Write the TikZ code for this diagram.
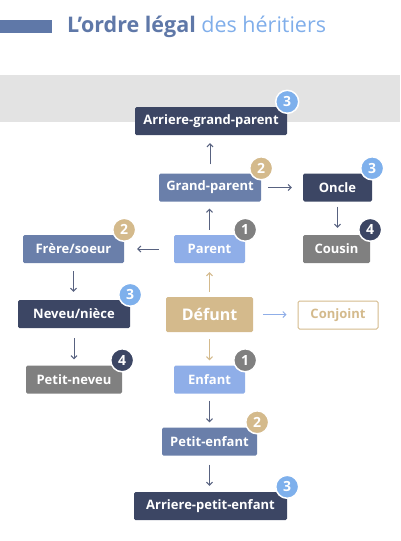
\documentclass[tikz,border=0pt]{standalone}
\usepackage{fontspec}
\setmainfont{Open Sans}
\usetikzlibrary{positioning, arrows.meta, calc}
\definecolor{navy}{RGB}{60,70,100}
\definecolor{slate}{RGB}{106,127,170}
\definecolor{sky}{RGB}{143,174,232}
\definecolor{stone}{RGB}{128,128,128}
\definecolor{sand}{RGB}{212,186,140}
\definecolor{badgesky}{RGB}{126,176,236}
\definecolor{band}{RGB}{227,227,227}
\definecolor{titleink}{RGB}{95,120,168}
\definecolor{titlesky}{RGB}{128,174,234}
\definecolor{linkc}{RGB}{88,98,128}

\begin{document}
\begin{tikzpicture}[x=1pt, y=-1pt,
  box/.style={rounded corners=1.5pt, minimum height=28pt, inner sep=0pt,
    text=white, font=\fontsize{13}{15}\selectfont\bfseries},
  badge/.style={circle, draw=white, line width=1.5pt, minimum size=23pt,
    inner sep=0pt, text=white, font=\fontsize{14}{16}\selectfont\bfseries},
  link/.style={draw=linkc, line width=1pt,
    -{Straight Barb[length=3pt,width=6pt]}},
]
\useasboundingbox (0,0) rectangle (400,541);

% title and the grey band behind the top row
\fill[titleink] (0,20) rectangle (52,33);
\node[anchor=base west, inner sep=0pt, font=\fontsize{21.5}{24}\selectfont]
  (title) at (67,32)
  {\textcolor{titleink}{\bfseries L’ordre légal} \textcolor{titlesky}{des héritiers}};
\fill[band] (0,75) rectangle (400,122);

% ascendants
\node[box, fill=navy, minimum width=152pt] (agp) at (211,121) {Arriere-grand-parent};
\node[box, fill=slate, minimum width=102pt] (gp) at (210,187.5) {Grand-parent};
\node[box, fill=navy, minimum width=69pt] (oncle) at (337.5,187.5) {Oncle};
\node[box, fill=stone, minimum width=67pt] (cousin) at (336.5,249) {Cousin};
\node[box, fill=sky, minimum width=71pt] (parent) at (209.5,249) {Parent};

% collaterals
\node[box, fill=slate, minimum width=101pt] (frere) at (73.5,249) {Frère/soeur};
\node[box, fill=navy, minimum width=112pt] (neveu) at (74,314) {Neveu/nièce};
\node[box, fill=stone, minimum width=96pt] (pneveu) at (74,379.5) {Petit-neveu};

% the deceased and the spouse
\node[box, fill=sand, minimum width=87pt, minimum height=35pt,
  font=\fontsize{16}{18}\selectfont\bfseries] (defunt) at (209.5,314.5) {Défunt};
\node[box, fill=white, draw=sand, line width=1pt, text=sand,
  minimum width=80pt] (conjoint) at (338,315) {Conjoint};

% descendants
\node[box, fill=sky, minimum width=71pt] (enfant) at (209.5,379.5) {Enfant};
\node[box, fill=slate, minimum width=95pt] (penfant) at (209.5,441.5) {Petit-enfant};
\node[box, fill=navy, minimum width=153pt] (apenfant) at (210.5,506) {Arriere-petit-enfant};

% order badges
\node[badge, fill=badgesky] (agp-b) at ([yshift=5pt]agp.north east) {3};
\node[badge, fill=sand] (gp-b) at ([yshift=5pt]gp.north east) {2};
\node[badge, fill=badgesky] (oncle-b) at ([yshift=5pt]oncle.north east) {3};
\node[badge, fill=navy] (cousin-b) at ([yshift=5pt]cousin.north east) {4};
\node[badge, fill=stone] (parent-b) at ([yshift=5pt]parent.north east) {1};
\node[badge, fill=sand] (frere-b) at ([yshift=5pt]frere.north east) {2};
\node[badge, fill=badgesky] (neveu-b) at ([yshift=5pt]neveu.north east) {3};
\node[badge, fill=navy] (pneveu-b) at ([yshift=5pt]pneveu.north east) {4};
\node[badge, fill=stone] (enfant-b) at ([yshift=5pt]enfant.north east) {1};
\node[badge, fill=sand] (penfant-b) at ([yshift=5pt]penfant.north east) {2};
\node[badge, fill=badgesky] (apenfant-b) at ([yshift=5pt]apenfant.north east) {3};

% links
\draw[link, shorten <=9pt, shorten >=8pt] (gp.north) -- (gp.north |- agp.south);
\draw[link, shorten <=5pt, shorten >=7pt] (parent.north) -- (parent.north |- gp.south);
\draw[link, shorten <=7pt, shorten >=11pt] (gp.east) -- (gp.east -| oncle.west);
\draw[link, shorten <=5pt, shorten >=7pt] (oncle.south) -- (oncle.south |- cousin.north);
\draw[link, shorten <=15pt, shorten >=13pt] (parent.west) -- (parent.west -| frere.east);
\draw[link, shorten <=8pt, shorten >=8pt] (frere.south) -- (frere.south |- neveu.north);
\draw[link, shorten <=10pt, shorten >=6pt] (neveu.south) -- (neveu.south |- pneveu.north);
\draw[link, draw=sand, shorten <=5pt, shorten >=9pt] (defunt.north) -- (defunt.north |- parent.south);
\draw[link, draw=sky, shorten <=10pt, shorten >=11pt] (defunt.east) -- (defunt.east -| conjoint.west);
\draw[link, draw=sand, shorten <=7pt, shorten >=5pt] (defunt.south) -- (defunt.south |- enfant.north);
\draw[link, shorten <=7pt, shorten >=5pt] (enfant.south) -- (enfant.south |- penfant.north);
\draw[link, shorten <=9pt, shorten >=6pt] (penfant.south) -- (penfant.south |- apenfant.north);
\end{tikzpicture}
\end{document}
